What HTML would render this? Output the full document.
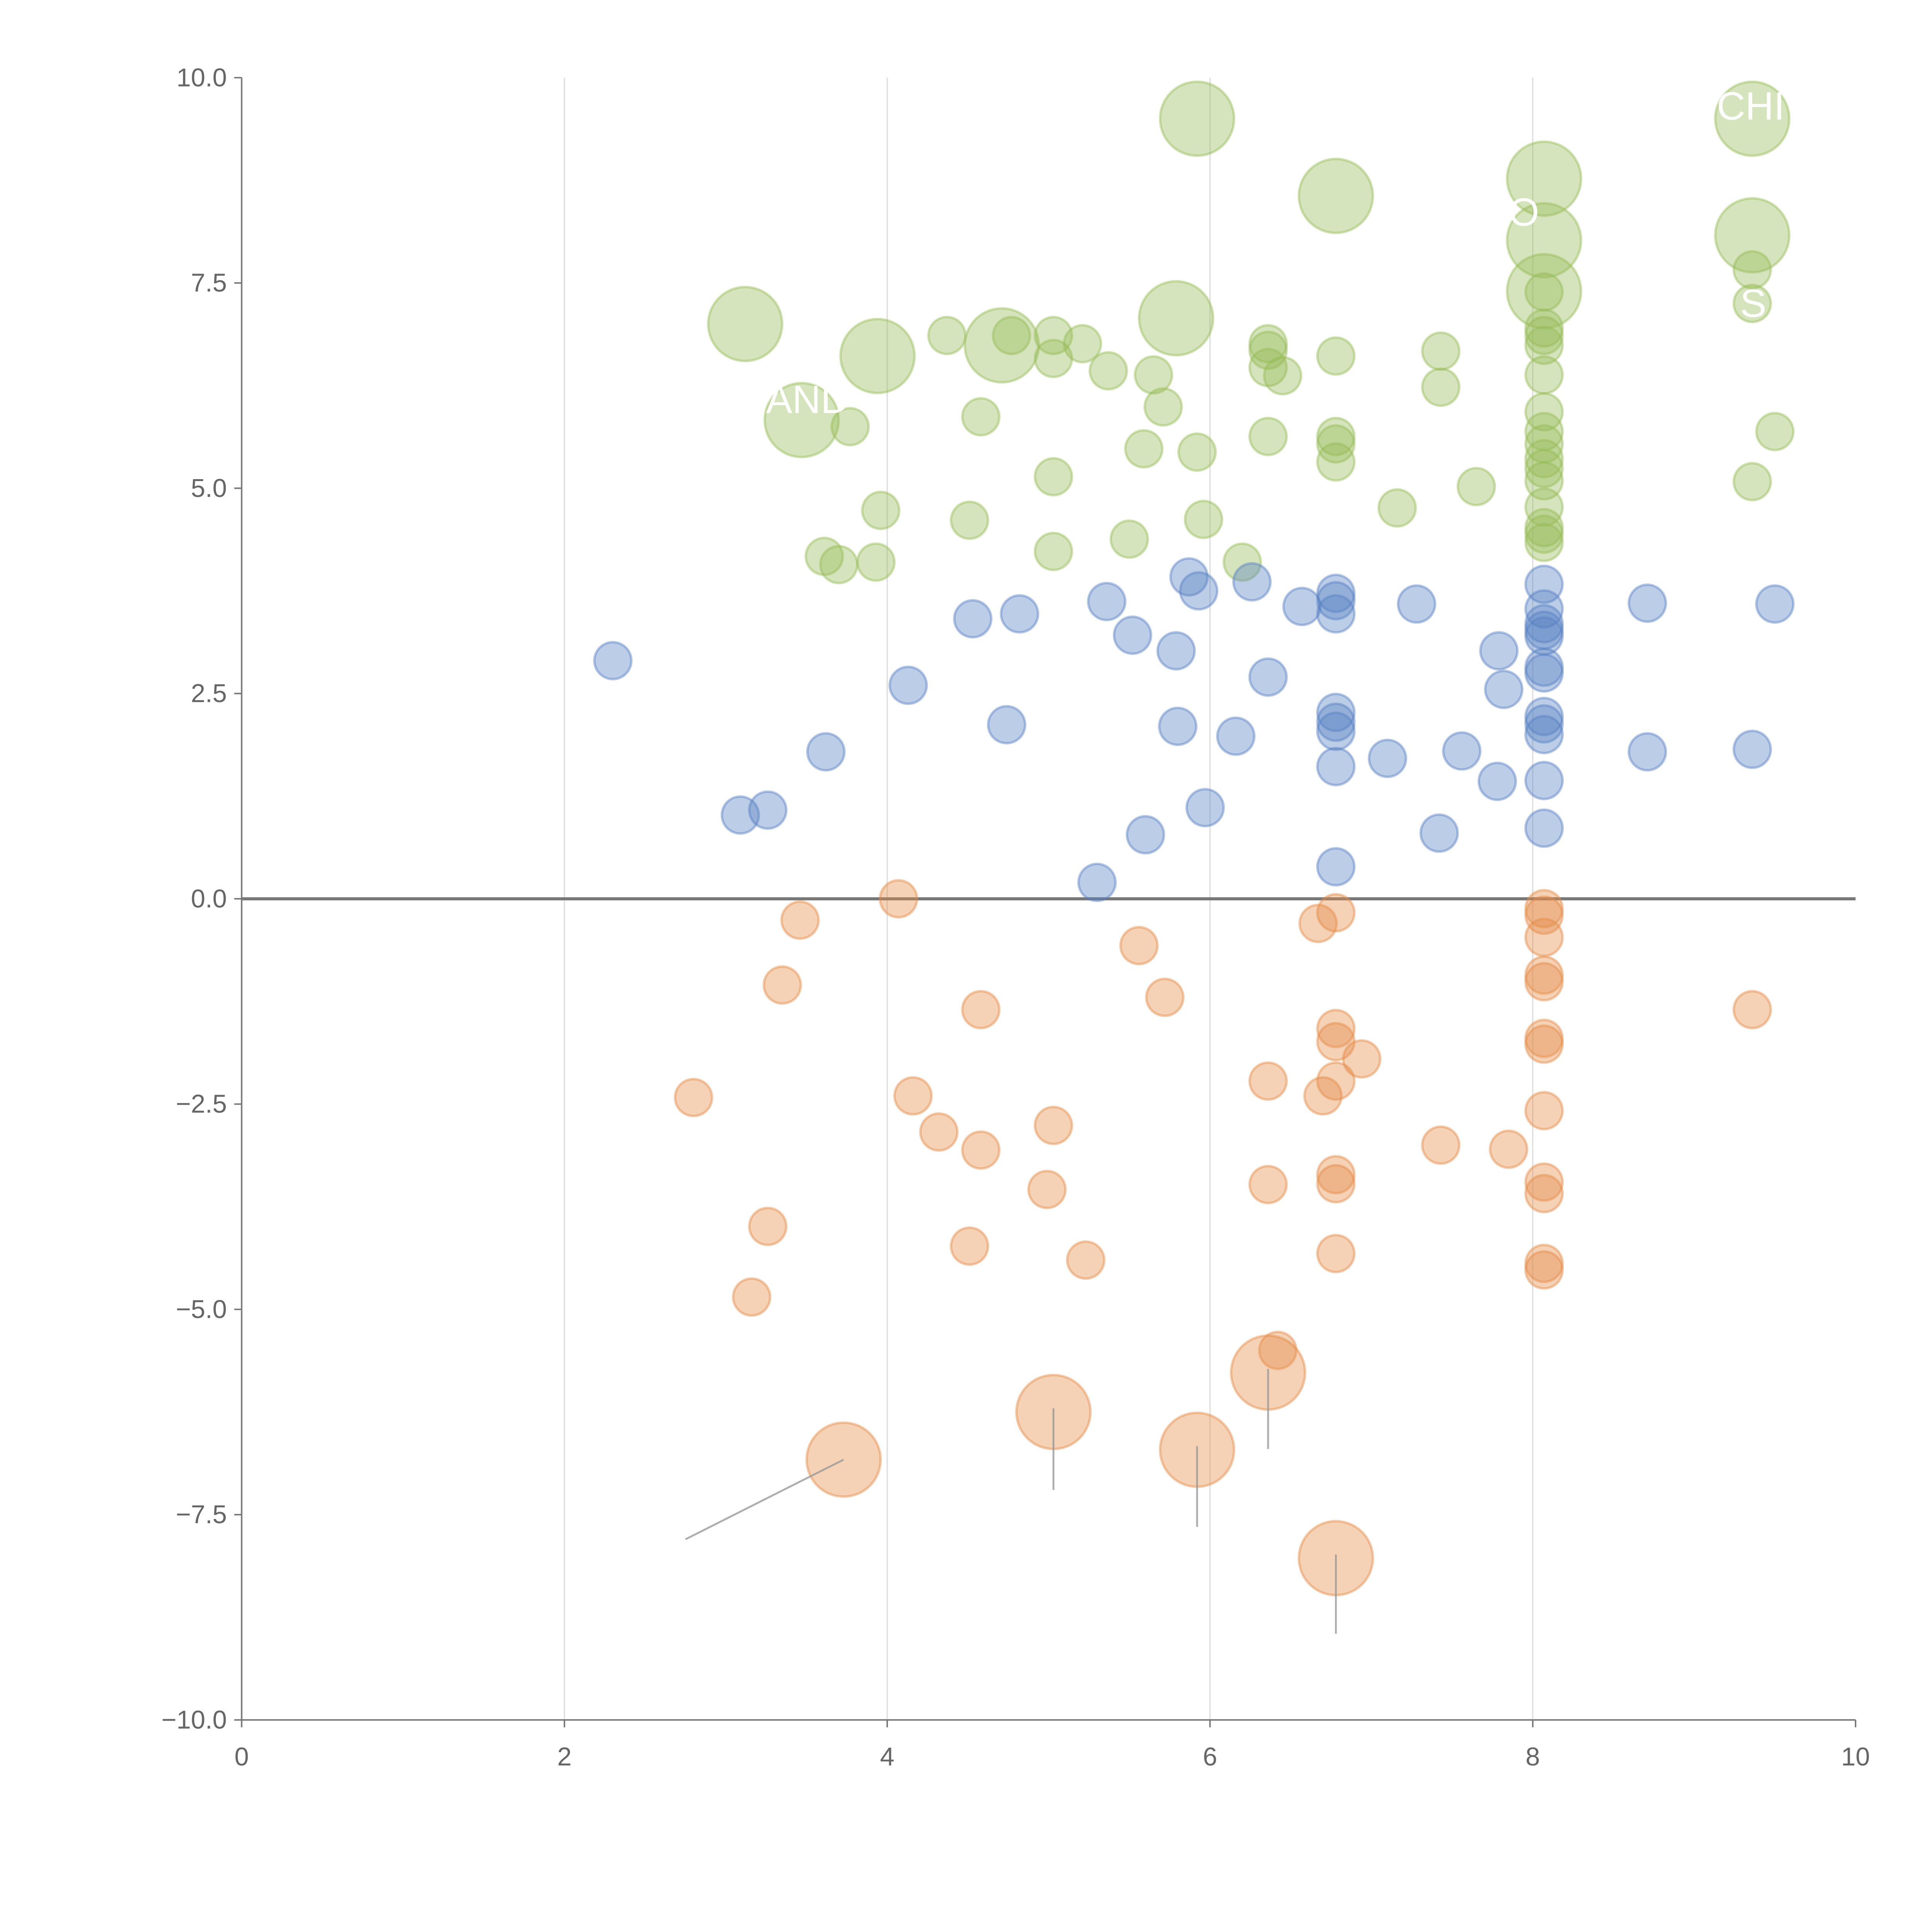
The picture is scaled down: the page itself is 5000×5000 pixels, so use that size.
<!DOCTYPE html>
<html><head><meta charset="utf-8"><style>
html,body{margin:0;padding:0;background:#fff;}
svg{display:block;}
text{font-family:"Liberation Sans",sans-serif;}
</style></head><body>
<svg id="chart" width="5000" height="5000" viewBox="0 0 1567 1567" xmlns="http://www.w3.org/2000/svg">
<g id="grid"></g>
<g id="axes"></g>
<g id="marks"></g>
<g id="labels"></g>
</svg>
<script>
const xTicks=[0,2,4,6,8,10];
const yTicks=[10,7.5,5,2.5,0,-2.5,-5,-7.5,-10];
const yTickLabels=["10.0","7.5","5.0","2.5","0.0","\u22122.5","\u22125.0","\u22127.5","\u221210.0"];
const greenX=[4.37,4.58,4.77,5.03,5.03,5.21,5.37,5.65,5.71,5.59,5.92,5.03,3.96,4.51,5.03,5.50,5.96,6.20,3.61,3.70,3.93,3.77,6.36,6.36,6.36,6.45,6.36,6.78,6.78,6.78,6.78,7.43,7.43,7.16,7.65,8.07,8.07,8.07,8.07,8.07,8.07,8.07,8.07,8.07,8.07,8.07,8.07,8.07,8.07,8.07,9.36,9.36,9.36,9.50,
5.92,9.36,8.07,6.78,8.07,9.36,8.07,5.79,3.12,3.94,4.71,3.47];
const greenY=[6.86,5.87,6.86,6.86,6.58,6.76,6.43,6.38,5.99,5.48,5.44,5.14,4.73,4.61,4.23,4.38,4.62,4.10,4.17,4.07,4.10,5.75,6.76,6.68,6.47,6.37,5.63,6.61,5.63,5.54,5.32,6.67,6.23,4.76,5.02,7.39,6.95,6.86,6.74,6.38,5.93,5.69,5.54,5.36,5.24,5.09,4.77,4.52,4.44,4.34,7.66,7.25,5.08,5.69,
9.50,9.50,8.77,8.56,8.02,8.08,7.40,7.07,7.00,6.61,6.74,5.83];
const greenSize=[1,1,1,1,1,1,1,1,1,1,1,1,1,1,1,1,1,1,1,1,1,1,1,1,1,1,1,1,1,1,1,1,1,1,1,1,1,1,1,1,1,1,1,1,1,1,1,1,1,1,1,1,1,1,4,4,4,4,4,4,4,4,4,4,4,4];
const blueX=[2.30,3.09,3.26,3.62,4.13,4.53,4.74,4.82,5.36,5.52,5.30,5.60,5.79,5.80,5.87,5.93,5.97,6.16,6.26,6.36,6.57,6.78,6.78,6.78,6.78,6.78,6.78,6.78,6.78,7.10,7.28,7.42,7.56,7.78,7.79,7.82,8.07,8.07,8.07,8.07,8.07,8.07,8.07,8.07,8.07,8.07,8.07,8.07,8.71,8.71,9.36,9.50];
const blueY=[2.90,1.02,1.08,1.79,2.60,3.41,2.12,3.47,3.62,3.21,0.20,0.78,3.02,2.10,3.92,3.75,1.11,1.98,3.86,2.70,3.56,3.72,3.63,3.47,2.27,2.15,2.04,1.61,0.39,1.71,3.59,0.80,1.80,1.43,3.02,2.55,3.83,3.53,3.35,3.27,3.20,2.82,2.75,2.22,2.13,2.00,1.44,0.86,3.60,1.79,1.82,3.59];
const orangeX=[4.07,3.46,3.35,2.80,3.26,3.16,4.16,4.32,4.58,4.58,4.51,4.99,5.03,5.23,5.56,5.72,6.36,6.36,6.42,6.67,6.78,6.78,6.78,6.94,6.78,6.70,6.78,6.78,6.78,7.43,7.85,8.07,8.07,8.07,8.07,8.07,8.07,8.07,8.07,8.07,8.07,8.07,8.07,9.36,
3.73,5.03,5.92,6.36,6.78];
const orangeY=[0.00,-0.26,-1.05,-2.42,-3.99,-4.85,-2.40,-2.84,-1.35,-3.06,-4.23,-3.54,-2.76,-4.40,-0.57,-1.20,-2.22,-3.48,-5.50,-0.30,-0.17,-1.58,-1.74,-1.95,-2.22,-2.40,-3.36,-3.47,-4.32,-3.00,-3.05,-0.12,-0.20,-0.47,-0.93,-1.01,-1.70,-1.77,-2.58,-3.45,-3.59,-4.44,-4.52,-1.35,
-6.83,-6.25,-6.71,-5.77,-8.03];
const orangeSize=[1,1,1,1,1,1,1,1,1,1,1,1,1,1,1,1,1,1,1,1,1,1,1,1,1,1,1,1,1,1,1,1,1,1,1,1,1,1,1,1,1,1,1,1,4,4,4,4,4];
const leaderFromX=[2.75,5.03,5.92,6.36,6.78];
const leaderFromY=[-7.80,-7.20,-7.65,-6.70,-8.95];

const NS="http://www.w3.org/2000/svg";
const X0=196,X1=1505,Y0=1395,Y1=63;
const sx=v=>X0+(v-0)/(10-0)*(X1-X0);
const sy=v=>Y0-(v+10)/20*(Y0-Y1);
function mk(tag,attrs,parent){const e=document.createElementNS(NS,tag);for(const k in attrs)e.setAttribute(k,attrs[k]);parent.appendChild(e);return e;}
const grid=document.getElementById('grid'),axes=document.getElementById('axes'),marks=document.getElementById('marks'),labels=document.getElementById('labels');

xTicks.forEach((t,i)=>{
  if(t>0&&t<10){const l=mk('line',{x1:sx(t),x2:sx(t),y1:Y1,y2:Y0,stroke:'#ddd','stroke-width':1},grid);
  
  }
  const tk=mk('line',{x1:sx(t),x2:sx(t),y1:Y0,y2:Y0+6,stroke:'#777','stroke-width':1.2},axes);
  
  
  const tx=mk('text',{x:sx(t),y:Y0+37,'text-anchor':'middle','font-size':21,fill:'#666'},axes);
  tx.textContent=String(t);
  
  
});
yTicks.forEach((t,i)=>{
  const tk=mk('line',{x1:X0-6,x2:X0,y1:sy(t),y2:sy(t),stroke:'#777','stroke-width':1.2},axes);
  
  
  const tx=mk('text',{x:X0-12,y:sy(t)+7,'text-anchor':'end','font-size':21,fill:'#666'},axes);
  tx.textContent=yTickLabels[i];
  
  
});
let a=mk('line',{x1:X0,x2:X0,y1:Y1,y2:Y0,stroke:'#777','stroke-width':1.2},axes);


a=mk('line',{x1:X0,x2:X1,y1:Y0,y2:Y0,stroke:'#777','stroke-width':1.2},axes);


a=mk('line',{x1:X0,x2:X1,y1:sy(0),y2:sy(0),stroke:'#777','stroke-width':2.5},axes);



function series(xs,ys,sz,color,name){
  xs.forEach((x,i)=>{
    const s=sz?sz[i]:1;
    const c=mk('circle',{cx:sx(x),cy:sy(ys[i]),r:15*Math.sqrt(s),fill:color,'fill-opacity':0.4,stroke:color,'stroke-opacity':0.45,'stroke-width':2},marks);
    
    
  });
}
series(greenX,greenY,greenSize,'rgb(150,188,88)','green-bubble');
series(blueX,blueY,null,'rgb(88,129,196)','blue-bubble');
series(orangeX,orangeY,orangeSize,'rgb(229,140,72)','orange-bubble');

leaderFromX.forEach((x,i)=>{
  const j=orangeX.length-leaderFromX.length+i;
  const l=mk('line',{x1:sx(x),y1:sy(leaderFromY[i]),x2:sx(orangeX[j]),y2:sy(orangeY[j])+(i==0?0:-3),stroke:'#999','stroke-width':1.5,'stroke-opacity':0.8},labels);
  
  
});
[["CHI",1420,97],["AND",655,335],["S",1422,257],["O",1236,183]].forEach(d=>{
  const t=mk('text',{x:d[1],y:d[2],'text-anchor':'middle','font-size':32,fill:'#fff'},labels);
  t.textContent=d[0];
  
  
});
</script>
</body></html>
